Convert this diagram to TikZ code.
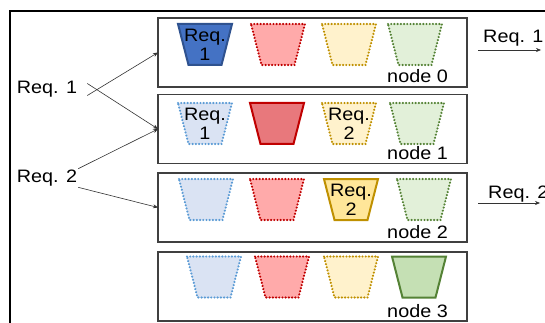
\documentclass[tikz,border=0pt]{standalone}
\usepackage{fontspec}
\setmainfont{Liberation Sans}[FakeStretch=1.1]
\usetikzlibrary{arrows.meta}

% bucket colours
\definecolor{blueline}{RGB}{47, 82, 143}
\definecolor{bluefill}{RGB}{68, 114, 196}
\definecolor{bluedot}{RGB}{91, 155, 213}
\definecolor{bluepale}{RGB}{218, 227, 243}
\definecolor{redline}{RGB}{192, 0, 0}
\definecolor{redfill}{RGB}{232, 120, 124}
\definecolor{redpale}{RGB}{255, 170, 170}
\definecolor{yellowline}{RGB}{191, 144, 0}
\definecolor{yellowfill}{RGB}{255, 230, 153}
\definecolor{yellowpale}{RGB}{255, 242, 204}
\definecolor{greenline}{RGB}{84, 130, 53}
\definecolor{greenfill}{RGB}{197, 224, 180}
\definecolor{greenpale}{RGB}{226, 240, 217}

\tikzset{
  nodebox/.style={draw=black!75, line width=1.3pt, inner sep=0pt, outer sep=0pt,
    minimum width=309pt, minimum height=69pt},
  dotline/.style={line width=2.4pt, dash pattern=on 0.01pt off 3.2pt, line cap=round},
  fullline/.style={line width=2pt, line join=miter},
  bucketblue/.style={fill=bluepale, draw=bluedot, dotline},
  bucketred/.style={fill=redpale, draw=redline, dotline},
  bucketyellow/.style={fill=yellowpale, draw=yellowline, dotline},
  bucketgreen/.style={fill=greenpale, draw=greenline, dotline},
  reqtext/.style={align=center, inner sep=1pt, font=\fontsize{18}{19}\selectfont},
  reqarrow/.style={draw=black!80, line width=0.6pt, -{Stealth[length=5pt,width=4pt]}}
}

% trapezoid bucket at (x,y) with a style
\newcommand{\bucket}[3]{%
  \draw[#3] (#1-27,#2-20.5) -- (#1+27,#2-20.5) -- (#1+16.5,#2+20.5) -- (#1-16.5,#2+20.5) -- cycle;}

\begin{document}
\begin{tikzpicture}[x=1pt, y=-1pt, font=\fontsize{18}{19}\selectfont]
	\clip (0,0) rectangle (545,323);
	
	% outer frame
	\draw[line width=1.4pt] (10,323) -- (10,11) -- (545,11);
	
	% node boxes
	\node[nodebox] (n0) at (312.5,52.5) {};
	\node[nodebox] (n1) at (312.5,129) {};
	\node[nodebox] (n2) at (312.5,207.5) {};
	\node[nodebox] (n3) at (312.5,286.5) {};
	\node[anchor=base east, inner sep=0pt] (lab0) at (448,83) {node 0};
	\node[anchor=base east, inner sep=0pt] (lab1) at (448,160) {node 1};
	\node[anchor=base east, inner sep=0pt] (lab2) at (448,238) {node 2};
	\node[anchor=base east, inner sep=0pt] (lab3) at (448,317) {node 3};
	
	% node 0
	\bucket{205}{44.5}{fill=bluefill, draw=blueline, fullline}
	\bucket{278}{44.5}{bucketred}
	\bucket{349}{44.5}{bucketyellow}
	\bucket{415}{44.5}{bucketgreen}
	\node[reqtext] (q01) at (205,44.5) {Req.\\1};
	
	% node 1
	\bucket{205}{123.5}{bucketblue}
	\bucket{277}{123.5}{fill=redfill, draw=redline, fullline}
	\bucket{349}{123.5}{bucketyellow}
	\bucket{417}{123.5}{bucketgreen}
	\node[reqtext] (q11) at (205,123.5) {Req.\\1};
	\node[reqtext] (q12) at (349,123.5) {Req.\\2};
	
	% node 2
	\bucket{206}{199.5}{bucketblue}
	\bucket{277}{199.5}{bucketred}
	\bucket{351}{199.5}{fill=yellowfill, draw=yellowline, fullline}
	\bucket{424}{199.5}{bucketgreen}
	\node[reqtext] (q22) at (351,199.5) {Req.\\2};
	
	% node 3
	\bucket{214}{277}{bucketblue}
	\bucket{282}{277}{bucketred}
	\bucket{351}{277}{bucketyellow}
	\bucket{419}{277}{fill=greenfill, draw=greenline, fullline}
	
	% incoming requests
	\node[inner sep=1pt] (req1) at (47,89.5) {Req. 1};
	\node[inner sep=1pt] (req2) at (47,178) {Req. 2};
	\draw[reqarrow] ([shift={(9pt,-6pt)}]req1.east) -- (n0.west);
	\draw[reqarrow] ([shift={(9pt,6pt)}]req1.east) -- (n1.west);
	\draw[reqarrow] (req2.north east) -- (n1.west);
	\draw[reqarrow] (req2.south east) -- (n2.west);
	
	% outgoing requests
	\coordinate (o1a) at (478,50);
	\coordinate (o1b) at (541,50);
	\coordinate (o2a) at (478,203);
	\coordinate (o2b) at (540,203);
	\draw[reqarrow] (o1a) -- (o1b);
	\draw[reqarrow] (o2a) -- (o2b);
	\node[anchor=base west, inner sep=0pt] (out1) at (483,43) {Req. 1};
	\node[anchor=base west, inner sep=0pt] (out2) at (488,198) {Req. 2};
\end{tikzpicture}
\end{document}
